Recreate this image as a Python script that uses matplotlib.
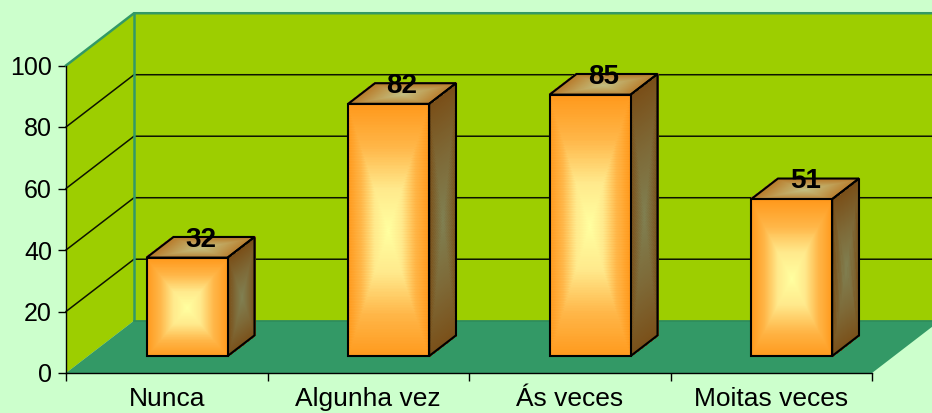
from matplotlib.colors import LinearSegmentedColormap
import matplotlib.pyplot as plt
import numpy as np

categories = ["Nunca", "Algunha vez", "Ás veces", "Moitas veces"]
values = [32, 82, 85, 51]
y_ticks = [0, 20, 40, 60, 80, 100]

# Depth of the 3D box, in data units
DEPTH_X = 0.3375
DEPTH_Y = 17.0
BAR_WIDTH = 0.402
BAR_FRONT = 0.325
BAR_BACK = 0.72
BAR_SHIFT = -0.0085

BACKGROUND = "#CCFFCC"
WALL = "#9DCE00"
FLOOR = "#339966"

FRONT_CMAP = LinearSegmentedColormap.from_list(
    "front", ["#FFFFA0", "#FFE98C", "#FFB648", "#FF991C"]
)
SIDE_CMAP = LinearSegmentedColormap.from_list(
    "side", ["#808052", "#7E6A38", "#7A4F18"]
)
TOP_CMAP = LinearSegmentedColormap.from_list(
    "top", ["#C2BE80", "#BFA058", "#B87C2C"]
)


def project(x, y, depth):
    return x + depth * DEPTH_X, y + depth * DEPTH_Y


def draw_face(ax, corners, cmap, zorder):
    """Fills a four sided face with a gradient going out from its center."""
    u = np.linspace(-1, 1, 161)
    uu, vv = np.meshgrid(u, u)
    s = (uu + 1) / 2
    t = (vv + 1) / 2
    (x0, y0), (x1, y1), (x2, y2), (x3, y3) = corners
    xs = (1 - t) * ((1 - s) * x0 + s * x1) + t * ((1 - s) * x3 + s * x2)
    ys = (1 - t) * ((1 - s) * y0 + s * y1) + t * ((1 - s) * y3 + s * y2)
    centers = (u[:-1] + u[1:]) / 2
    cu, cv = np.meshgrid(centers, centers)
    strength = np.maximum(np.abs(cu), np.abs(cv))
    mesh = ax.pcolormesh(
        xs, ys, strength, cmap=cmap, vmin=0, vmax=1,
        shading="flat", zorder=zorder, clip_on=False,
    )
    mesh.set_edgecolor("face")
    mesh.set_linewidth(0.3)
    ax.fill(
        [c[0] for c in corners], [c[1] for c in corners], facecolor="none",
        edgecolor="black", linewidth=1.5, zorder=zorder + 0.5, clip_on=False,
        joinstyle="miter",
    )


def draw_bar(ax, center, value):
    left = center - BAR_WIDTH / 2
    right = center + BAR_WIDTH / 2
    front = [
        project(left, 0, BAR_FRONT),
        project(right, 0, BAR_FRONT),
        project(right, value, BAR_FRONT),
        project(left, value, BAR_FRONT),
    ]
    side = [
        project(right, 0, BAR_FRONT),
        project(right, 0, BAR_BACK),
        project(right, value, BAR_BACK),
        project(right, value, BAR_FRONT),
    ]
    top = [
        project(left, value, BAR_FRONT),
        project(right, value, BAR_FRONT),
        project(right, value, BAR_BACK),
        project(left, value, BAR_BACK),
    ]
    draw_face(ax, side, SIDE_CMAP, 5)
    draw_face(ax, top, TOP_CMAP, 5)
    draw_face(ax, front, FRONT_CMAP, 6)

    label_x = project(center, 0, (BAR_FRONT + BAR_BACK) / 2)[0]
    label_y = project(0, value, BAR_BACK)[1]
    ax.annotate(
        str(value), (label_x, label_y), xytext=(0, -2), textcoords="offset points",
        ha="center", va="center", fontsize=20, fontweight="bold",
        color="black", zorder=8, annotation_clip=False,
    )


plt.rcParams["font.family"] = ["Liberation Sans", "DejaVu Sans"]

fig = plt.figure(figsize=(9.32, 4.13), dpi=100, facecolor=BACKGROUND)
ax = fig.add_axes([66 / 932, 40 / 413, 806 / 932, 307.5 / 413])
ax.set_facecolor("none")

n = len(categories)
ax.set_xlim(0, n)
ax.set_ylim(0, y_ticks[-1])
top_value = y_ticks[-1]
far_right = n + 2 * DEPTH_X

# Back wall, left wall and floor
ax.fill(
    [DEPTH_X, far_right, far_right, DEPTH_X],
    [DEPTH_Y, DEPTH_Y, top_value + DEPTH_Y, top_value + DEPTH_Y],
    color=WALL, linewidth=0, zorder=1, clip_on=False,
)
ax.fill(
    [0, DEPTH_X, DEPTH_X, 0],
    [0, DEPTH_Y, top_value + DEPTH_Y, top_value],
    color=WALL, linewidth=0, zorder=1, clip_on=False,
)
ax.fill(
    [0, n, n + DEPTH_X, far_right, DEPTH_X],
    [0, 0, DEPTH_Y, DEPTH_Y, DEPTH_Y],
    color=FLOOR, linewidth=0, zorder=2, clip_on=False,
)

# Gridlines going along both walls
for tick in y_ticks[1:-1]:
    ax.plot(
        [0, DEPTH_X, far_right], [tick, tick + DEPTH_Y, tick + DEPTH_Y],
        color="#0D1300", linewidth=1.1, zorder=3, clip_on=False,
    )

# Teal edges of the walls
ax.plot(
    [0, DEPTH_X, far_right],
    [top_value, top_value + DEPTH_Y, top_value + DEPTH_Y],
    color=FLOOR, linewidth=1.8, zorder=3, clip_on=False,
)
ax.plot(
    [DEPTH_X, DEPTH_X], [DEPTH_Y, top_value + DEPTH_Y],
    color=FLOOR, linewidth=1.8, zorder=3, clip_on=False,
)
ax.plot(
    [DEPTH_X, far_right], [DEPTH_Y, DEPTH_Y],
    color="#2E8C5C", linewidth=1.2, zorder=3, clip_on=False,
)

for i in range(n):
    draw_bar(ax, i + 0.5 + BAR_SHIFT, values[i])

# Axes
for name in ["top", "right"]:
    ax.spines[name].set_visible(False)
ax.spines["left"].set_linewidth(1.0)
ax.spines["bottom"].set_linewidth(1.0)
ax.spines["left"].set_zorder(4)
ax.spines["bottom"].set_zorder(4)

ax.set_yticks(y_ticks)
ax.tick_params(axis="y", length=6, width=1, pad=4, labelsize=18)
ax.set_xticks(np.arange(n + 1))
ax.set_xticklabels([])
ax.tick_params(axis="x", which="major", length=6, width=1)
ax.set_xticks(np.arange(n) + 0.5, minor=True)
ax.set_xticklabels(categories, minor=True)
ax.tick_params(axis="x", which="minor", length=0, pad=10, labelsize=19)

fig.savefig("out.png", dpi=100, facecolor=BACKGROUND)
